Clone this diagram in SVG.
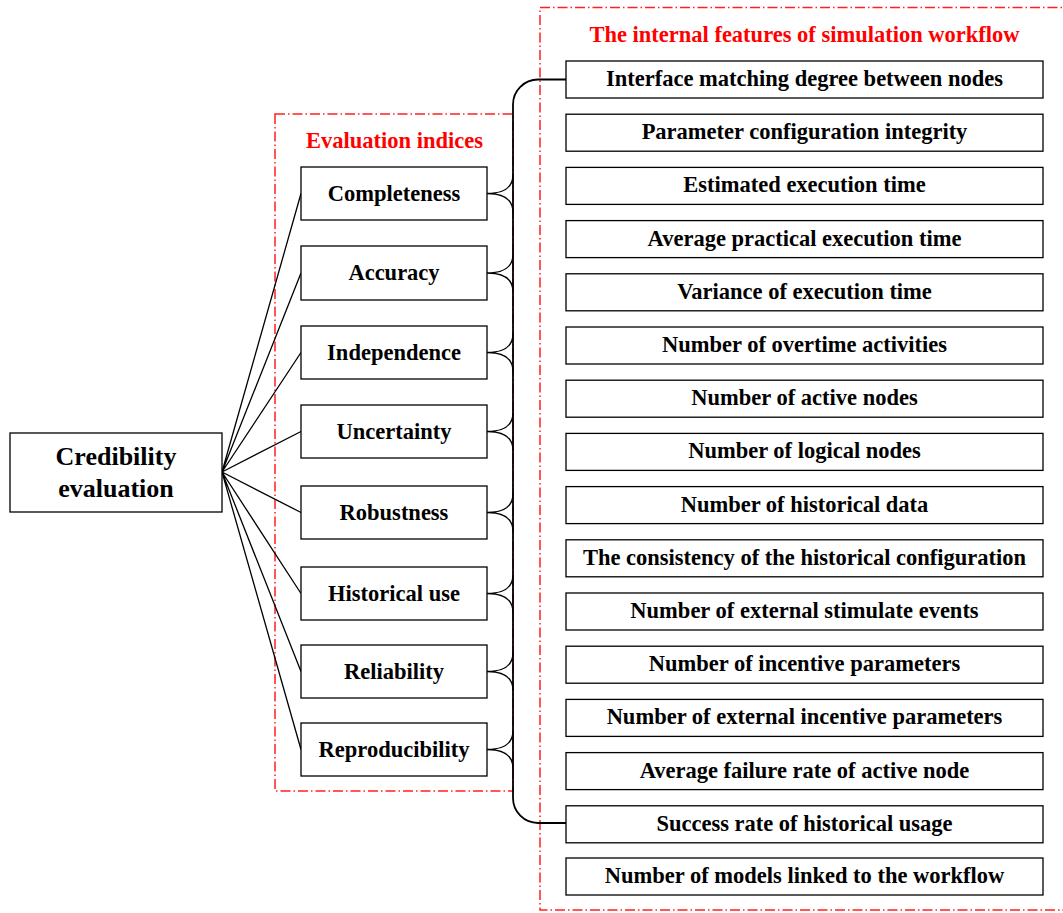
<svg xmlns="http://www.w3.org/2000/svg" width="1063" height="913" viewBox="0 0 1063 913">
<style>
  .box { fill: #fff; stroke: #000; stroke-width: 1.3; }
  .t { font-family: "Liberation Serif", "Times New Roman", serif; font-weight: bold; font-size: 22.5px; fill: #000; text-anchor: middle; }
  .big { font-size: 26px; }
  .red { fill: #ff0000; }
  .frame { fill: none; stroke: #ff2020; stroke-width: 1.5; stroke-dasharray: 10 3 1.5 3; }
  .conn { fill: none; stroke: #000; stroke-width: 1.3; }
  .brace { fill: none; stroke: #000; stroke-width: 1.8; }
</style>
<rect width="1063" height="913" fill="#fff"/>

<g id="frames">
  <rect class="frame" x="275" y="114" width="238" height="677"/>
  <path class="frame" d="M1075,7.5 H540 V910 H1075"/>
  <text class="t red" x="394.5" y="148">Evaluation indices</text>
  <text class="t red" x="804.5" y="42">The internal features of simulation workflow</text>
</g>

<g id="connectors">
  <path class="conn" d="M222,472 L301,193.5 M222,472 L301,273 M222,472 L301,352.5 M222,472 L301,431.5 M222,472 L301,512.5 M222,472 L301,593.5 M222,472 L301,671.5 M222,472 L301,749.5"/>
  <path class="conn" d="M487,193.5 C505,193.5 513,186 513,174.5 M487,193.5 C505,193.5 513,201 513,212.5
    M487,273 C505,273 513,265.5 513,254 M487,273 C505,273 513,280.5 513,292
    M487,352.5 C505,352.5 513,345 513,333.5 M487,352.5 C505,352.5 513,360 513,371.5
    M487,431.5 C505,431.5 513,424 513,412.5 M487,431.5 C505,431.5 513,439 513,450.5
    M487,512.5 C505,512.5 513,505 513,493.5 M487,512.5 C505,512.5 513,520 513,531.5
    M487,593.5 C505,593.5 513,586 513,574.5 M487,593.5 C505,593.5 513,601 513,612.5
    M487,671.5 C505,671.5 513,664 513,652.5 M487,671.5 C505,671.5 513,679 513,690.5
    M487,749.5 C505,749.5 513,742 513,730.5 M487,749.5 C505,749.5 513,757 513,768.5"/>
  <path class="brace" d="M566,79.5 H538 A25,25 0 0 0 513,104.5 V798 A25,25 0 0 0 538,823 H566"/>
</g>

<g id="root">
  <rect class="box" x="10" y="433" width="212" height="79"/>
  <text class="t big" x="116" y="465">Credibility</text>
  <text class="t big" x="116" y="497">evaluation</text>
</g>

<g id="idx-completeness"><rect class="box" x="301" y="167" width="186" height="53"/><text class="t" x="394" y="201">Completeness</text></g>
<g id="idx-accuracy"><rect class="box" x="301" y="246" width="186" height="54"/><text class="t" x="394" y="280">Accuracy</text></g>
<g id="idx-independence"><rect class="box" x="301" y="326" width="186" height="53"/><text class="t" x="394" y="360">Independence</text></g>
<g id="idx-uncertainty"><rect class="box" x="301" y="405" width="186" height="53"/><text class="t" x="394" y="439">Uncertainty</text></g>
<g id="idx-robustness"><rect class="box" x="301" y="486" width="186" height="53"/><text class="t" x="394" y="520">Robustness</text></g>
<g id="idx-historical"><rect class="box" x="301" y="567" width="186" height="53"/><text class="t" x="394" y="601">Historical use</text></g>
<g id="idx-reliability"><rect class="box" x="301" y="645" width="186" height="53"/><text class="t" x="394" y="679">Reliability</text></g>
<g id="idx-reproducibility"><rect class="box" x="301" y="723" width="186" height="53"/><text class="t" x="394" y="757">Reproducibility</text></g>

<g id="f1"><rect class="box" x="566" y="61" width="477" height="37"/><text class="t" x="804.5" y="86">Interface matching degree between nodes</text></g>
<g id="f2"><rect class="box" x="566" y="114.2" width="477" height="37"/><text class="t" x="804.5" y="139.2">Parameter configuration integrity</text></g>
<g id="f3"><rect class="box" x="566" y="167.4" width="477" height="37"/><text class="t" x="804.5" y="192.4">Estimated execution time</text></g>
<g id="f4"><rect class="box" x="566" y="220.6" width="477" height="37"/><text class="t" x="804.5" y="245.6">Average practical execution time</text></g>
<g id="f5"><rect class="box" x="566" y="273.8" width="477" height="37"/><text class="t" x="804.5" y="298.8">Variance of execution time</text></g>
<g id="f6"><rect class="box" x="566" y="327" width="477" height="37"/><text class="t" x="804.5" y="352">Number of overtime activities</text></g>
<g id="f7"><rect class="box" x="566" y="380.2" width="477" height="37"/><text class="t" x="804.5" y="405.2">Number of active nodes</text></g>
<g id="f8"><rect class="box" x="566" y="433.4" width="477" height="37"/><text class="t" x="804.5" y="458.4">Number of logical nodes</text></g>
<g id="f9"><rect class="box" x="566" y="486.6" width="477" height="37"/><text class="t" x="804.5" y="511.6">Number of historical data</text></g>
<g id="f10"><rect class="box" x="566" y="539.8" width="477" height="37"/><text class="t" x="804.5" y="564.8">The consistency of the historical configuration</text></g>
<g id="f11"><rect class="box" x="566" y="593" width="477" height="37"/><text class="t" x="804.5" y="618">Number of external stimulate events</text></g>
<g id="f12"><rect class="box" x="566" y="646.2" width="477" height="37"/><text class="t" x="804.5" y="671.2">Number of incentive parameters</text></g>
<g id="f13"><rect class="box" x="566" y="699.4" width="477" height="37"/><text class="t" x="804.5" y="724.4">Number of external incentive parameters</text></g>
<g id="f14"><rect class="box" x="566" y="752.6" width="477" height="37"/><text class="t" x="804.5" y="777.6">Average failure rate of active node</text></g>
<g id="f15"><rect class="box" x="566" y="805.8" width="477" height="37"/><text class="t" x="804.5" y="830.8">Success rate of historical usage</text></g>
<g id="f16"><rect class="box" x="566" y="858" width="477" height="37"/><text class="t" x="804.5" y="883">Number of models linked to the workflow</text></g>
</svg>
